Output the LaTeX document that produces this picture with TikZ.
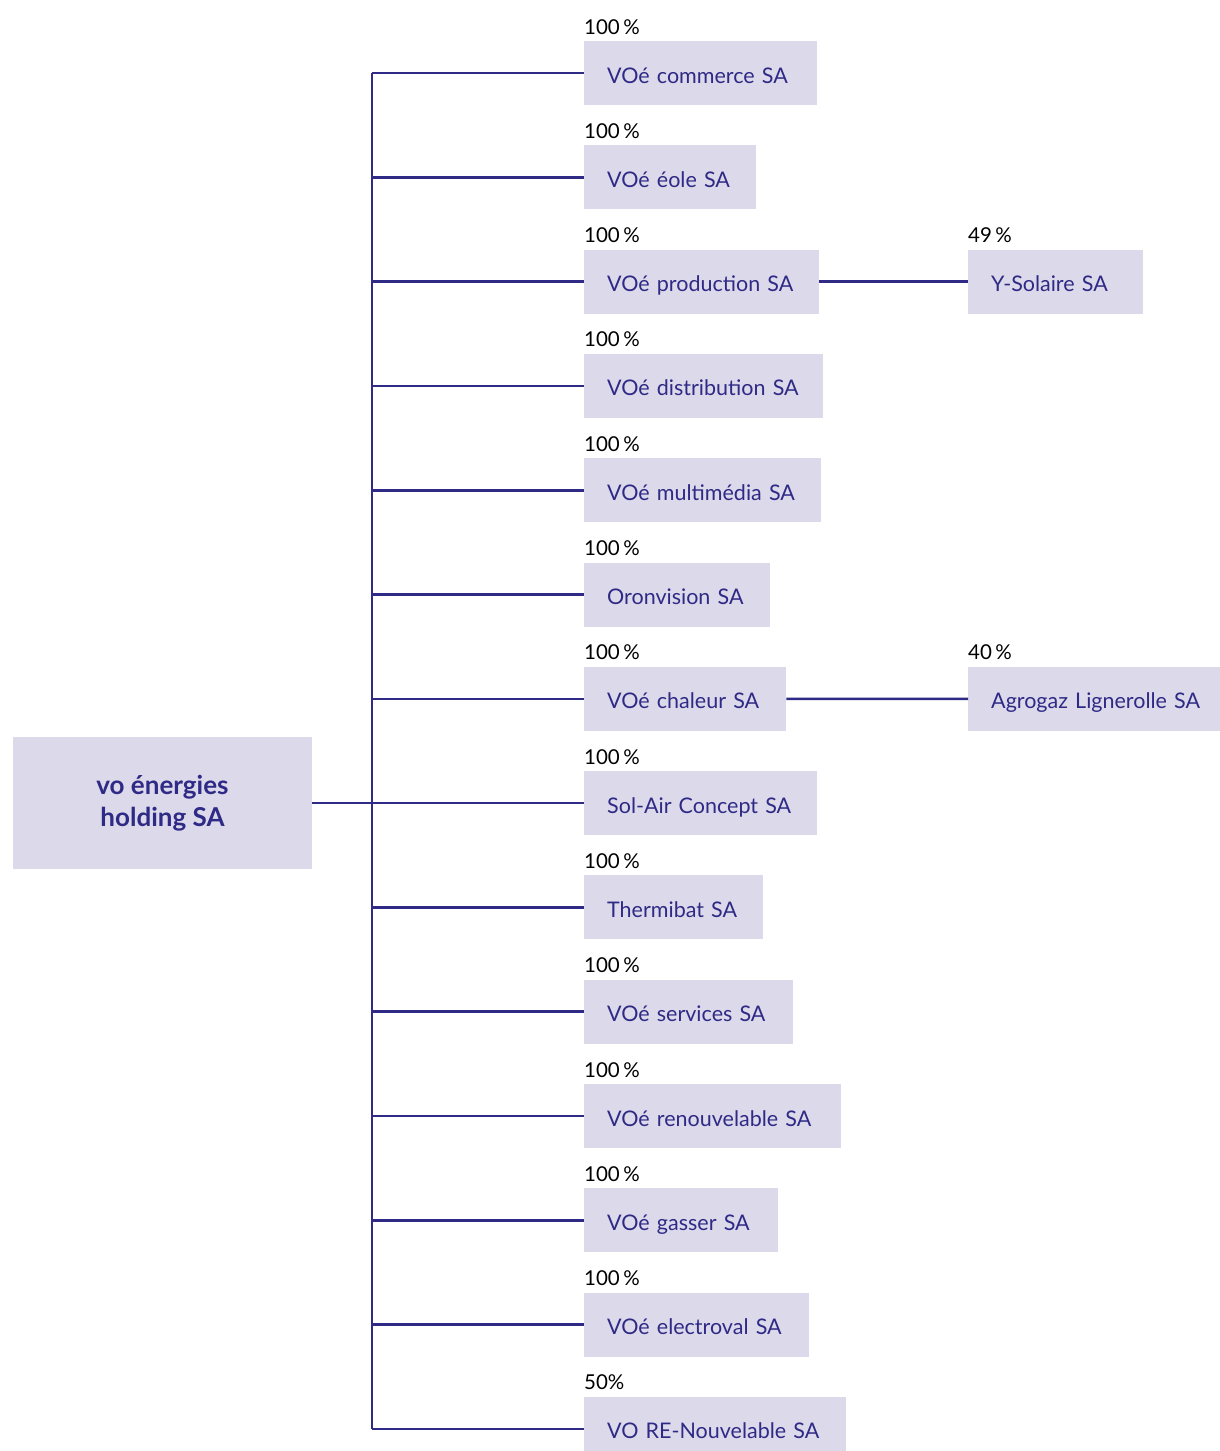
\documentclass[tikz,border=0pt]{standalone}
\usepackage{fontspec}
\setmainfont{Lato}
\definecolor{ink}{HTML}{2E2A85}
\definecolor{boxfill}{HTML}{DCD9EB}
\begin{document}
\begin{tikzpicture}[x=1pt,y=-1pt,
  link/.style={draw=ink,line width=2.6pt},
  cobox/.style={fill=boxfill,anchor=west,minimum height=64pt,inner xsep=23pt,inner ysep=0pt,
    text height=22pt,text depth=2pt,
    align=left,text=ink,font=\fontsize{21.5}{26}\selectfont},
  pct/.style={anchor=base west,inner sep=0pt,text=black,font=\fontsize{20.5}{24}\selectfont}]
\useasboundingbox (0,0) rectangle (1220,1451);
\clip (0,0) rectangle (1220,1451);
\fill[white] (0,0) rectangle (1220,1451);
% holding
\node[fill=boxfill,minimum width=299pt,minimum height=132pt,align=center,text=ink,
  font=\fontsize{26}{32}\selectfont\bfseries] (h) at (162.5,803) {vo énergies\\holding SA};
\coordinate (t0) at (372,73);
\coordinate (tN) at (372,1429);
\foreach \i/\w/\txt/\p in {
  0/233/VOé commerce SA/100\,\%,
  1/172/VOé éole SA/100\,\%,
  2/235/VOé production SA/100\,\%,
  3/239/VOé distribution SA/100\,\%,
  4/237/VOé multimédia SA/100\,\%,
  5/186/Oronvision SA/100\,\%,
  6/202/VOé chaleur SA/100\,\%,
  7/233/Sol-Air Concept SA/100\,\%,
  8/179/Thermibat SA/100\,\%,
  9/209/VOé services SA/100\,\%,
  10/257/VOé renouvelable SA/100\,\%,
  11/194/VOé gasser SA/100\,\%,
  12/225/VOé electroval SA/100\,\%,
  13/262/VO RE-Nouvelable SA/50\%}{
  \pgfmathsetmacro{\cy}{73+104.3*\i}
  \node[cobox,text width={(\w-46)*1pt}] (r\i) at (584,\cy) {\mbox{\txt}};
  \node[pct] (p\i) at (584,\cy-39) {\p};
  \coordinate (j\i) at (372,\cy);
  \draw[link] (j\i) -- (r\i.west);
}
\draw[link] (t0) -- (tN);
\coordinate (jh) at (372,803);
\draw[link] (h.east) -- (jh);
% second level
\node[cobox,text width=129pt] (ys) at (968,281.6) {\mbox{Y-Solaire SA}};
\node[pct] (pys) at (968,242.6) {49\,\%};
\node[cobox,text width=206pt] (ag) at (968,698.8) {\mbox{Agrogaz Lignerolle SA}};
\node[pct] (pag) at (968,659.8) {40\,\%};
\draw[link] (r2.east) -- (ys.west);
\draw[link] (r6.east) -- (ag.west);
\end{tikzpicture}
\end{document}
